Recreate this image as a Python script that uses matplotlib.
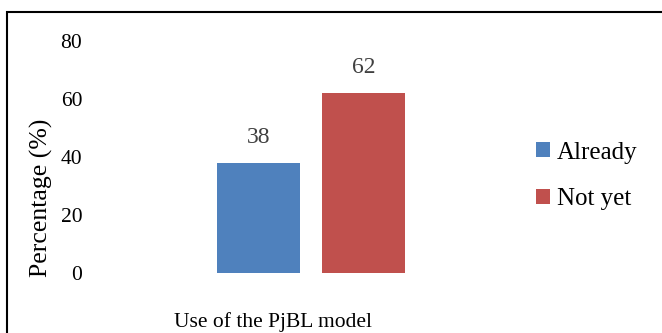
import matplotlib
matplotlib.use("Agg")
import matplotlib.pyplot as plt
from matplotlib.patches import Rectangle

# data
series = ["Already", "Not yet"]
values = [38, 62]
colors = ["#4F81BD", "#C0504D"]
yticks = [0, 20, 40, 60, 80]

plt.rcParams["font.family"] = ["Liberation Serif", "DejaVu Serif"]

W, H = 662, 333
fig = plt.figure(figsize=(W / 100, H / 100), dpi=100)

# plot area in pixel coordinates
L, R, T, B = 110, 512, 41, 273
ax = fig.add_axes([L / W, (H - B) / H, (R - L) / W, (B - T) / H])

xs = list(range(len(values)))
bars = ax.bar(xs, values, width=0.79, color=colors, label=series, zorder=2)
for x, v in zip(xs, values):
    ax.text(x, v + 5.2, str(v), ha="center", va="bottom", fontsize=17, color="#404040")

ax.set_xlim(-1.414, 2.414)
ax.set_ylim(0, 80)
ax.set_yticks(yticks)
ax.set_yticklabels([str(t) for t in yticks], fontsize=15.5)
ax.set_xticks([])
ax.tick_params(axis="y", length=0, pad=20)
for s in ax.spines.values():
    s.set_visible(False)

fig.text(41 / W, 1 - 198 / H, "Percentage (%)", rotation=90, ha="center", va="center", fontsize=18.5)
fig.text(273 / W, 1 - 322 / H, "Use of the PjBL model", ha="center", va="center", fontsize=15.5)

ax.legend(handles=bars, loc="center left", bbox_to_anchor=(523 / W, 1 - 176 / H),
          bbox_transform=fig.transFigure, frameon=False, fontsize=18, borderpad=0,
          handlelength=0.56, handleheight=0.56, handletextpad=0.3, labelspacing=1.0)

# outer frame of the chart
fig.patches.append(Rectangle((7 / W, -0.2), 2, 1.2 - 12 / H, transform=fig.transFigure,
                             fill=False, edgecolor="black", lw=1.5))

fig.savefig("out.png", dpi=100)
